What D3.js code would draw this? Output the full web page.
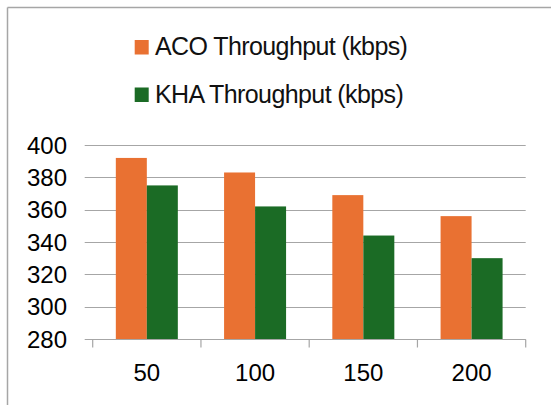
<!DOCTYPE html>
<html><head><meta charset="utf-8">
<script src="https://cdn.jsdelivr.net/npm/d3@7"></script>
<style>html,body{margin:0;padding:0;background:#fff;}svg{display:block;}</style>
</head><body>
<svg id="chart" width="551" height="405"></svg>
<script>
const categories = ["50", "100", "150", "200"];
const seriesNames = ["ACO Throughput (kbps)", "KHA Throughput (kbps)"];
const acoValues = [392, 383, 369, 356];
const khaValues = [375, 362, 344, 330];
const yTicks = [280, 300, 320, 340, 360, 380, 400];
const colors = ["#E97132", "#1B6B25"];

(function () {
const svg = d3.select("#chart");
// outer frame (left and top edges visible)
svg.append("line").attr("x1", 7.5).attr("y1", 7.5).attr("x2", 551).attr("y2", 7.5).attr("stroke", "#A6A6A6").attr("stroke-width", 1.5);
svg.append("line").attr("x1", 7.5).attr("y1", 7.5).attr("x2", 7.5).attr("y2", 405).attr("stroke", "#A6A6A6").attr("stroke-width", 1.5);

const pLeft = 92.7, pRight = 525.7, pTop = 145, pBottom = 339;
const x = d3.scaleBand().domain(categories).range([pLeft, pRight]).paddingInner(0).paddingOuter(0);
const y = d3.scaleLinear().domain([280, 400]).range([pBottom, pTop]);
const groupW = 62;
const x1 = d3.scaleBand().domain([0, 1]).range([0, groupW]).padding(0);
const font = "Liberation Sans, Arial, sans-serif";

// gridlines
const g = svg.append("g");
g.selectAll("line.grid").data(yTicks).join("line")
  .attr("x1", pLeft - 8).attr("x2", pRight)
  .attr("y1", d => Math.round(y(d)) + 0.5).attr("y2", d => Math.round(y(d)) + 0.5)
  .attr("stroke", "#A6A6A6").attr("stroke-width", 1.2);

// y axis labels
g.selectAll("text.ylab").data(yTicks).join("text")
  .attr("x", 67).attr("y", d => y(d)).attr("dy", "0.36em")
  .attr("text-anchor", "end")
  .attr("font-family", font).attr("font-size", 24)
  .attr("fill", "#000").text(d => d);

// bars
const series = [acoValues, khaValues];
series.forEach((vals, si) => {
  svg.append("g").selectAll("rect").data(vals).join("rect")
    .attr("x", (d, i) => x(categories[i]) + (x.bandwidth() - groupW) / 2 + x1(si))
    .attr("width", x1.bandwidth())
    .attr("y", d => y(d))
    .attr("height", d => y(280) - y(d))
    .attr("fill", colors[si]);
});

// x axis line + ticks
const ax = svg.append("g").attr("transform", `translate(0,${Math.round(pBottom) + 0.5})`);
ax.append("line").attr("x1", pLeft).attr("x2", pRight).attr("stroke", "#A6A6A6").attr("stroke-width", 1.2);
const tickPos = categories.map(c => x(c)).concat([pRight]);
ax.selectAll("line.tick").data(tickPos).join("line")
  .attr("x1", d => d).attr("x2", d => d).attr("y1", 0).attr("y2", 8)
  .attr("stroke", "#A6A6A6").attr("stroke-width", 1.2);
ax.selectAll("text").data(categories).join("text")
  .attr("x", d => x(d) + x.bandwidth() / 2).attr("y", 41)
  .attr("text-anchor", "middle")
  .attr("font-family", font).attr("font-size", 24)
  .attr("fill", "#000").text(d => d);

// legend
const leg = svg.append("g");
seriesNames.forEach((name, i) => {
  const yy = 40 + i * 47.5;
  leg.append("rect").attr("x", 134.7).attr("y", yy).attr("width", 14).attr("height", 14.5).attr("fill", colors[i]);
  leg.append("text").attr("x", 155).attr("y", yy + 15)
    .attr("font-family", font).attr("font-size", 25).attr("letter-spacing", -0.6)
    .attr("fill", "#111").text(name);
});
})();
</script>
</body></html>
